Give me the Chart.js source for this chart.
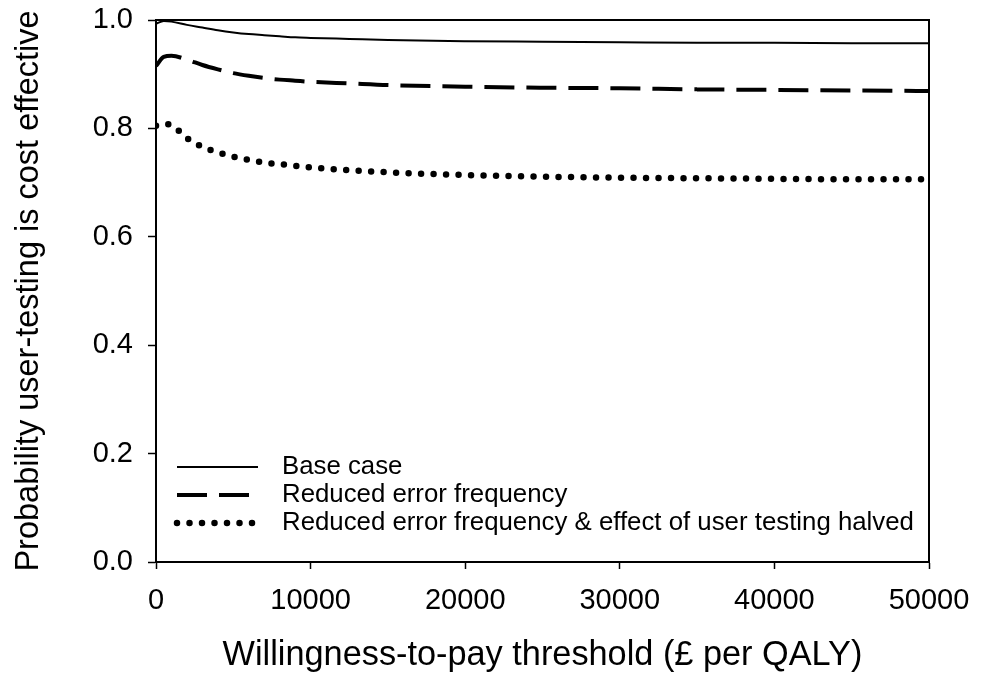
<!DOCTYPE html>
<html lang="en">
<head>
  <meta charset="UTF-8" />
  <title>Probability user-testing is cost effective</title>
  <style>
    html, body { margin: 0; padding: 0; background: #fff; overflow: hidden; }
    canvas { display: block; }
  </style>
</head>
<body>
  <canvas id="ceac" width="988" height="676"></canvas>

  <script src="https://cdn.jsdelivr.net/npm/chart.js"></script>
  <script>
    // willingness-to-pay thresholds (GBP per QALY)
    const wtp = [0, 500, 1000, 2000, 3000, 4000, 5000, 6000, 7000, 8000, 9000, 10000,
                 12500, 15000, 20000, 25000, 30000, 35000, 40000, 45000, 50000];

    const baseCase = [0.993, 0.998, 0.997, 0.991, 0.986, 0.981, 0.977, 0.974, 0.972, 0.970, 0.968, 0.967,
                      0.965, 0.963, 0.961, 0.960, 0.959, 0.958, 0.958, 0.957, 0.957];
    const reducedError = [0.915, 0.932, 0.934, 0.927, 0.917, 0.909, 0.902, 0.897, 0.893, 0.890, 0.888, 0.886,
                          0.883, 0.880, 0.877, 0.875, 0.874, 0.872, 0.871, 0.870, 0.869];
    const reducedHalved = [0.805, 0.808, 0.806, 0.782, 0.766, 0.756, 0.748, 0.742, 0.737, 0.734, 0.731, 0.728,
                           0.723, 0.719, 0.714, 0.711, 0.709, 0.708, 0.707, 0.706, 0.706];

    const seriesNames = ['Base case', 'Reduced error frequency',
                         'Reduced error frequency & effect of user testing halved'];
    const yTicks = [0, 0.2, 0.4, 0.6, 0.8, 1.0];
    const xTicks = [0, 10000, 20000, 30000, 40000, 50000];

    const FONT = 'Arial, "Liberation Sans", sans-serif';

    function pts(ys) {
      return wtp.map((x, i) => ({ x: x, y: ys[i] }));
    }

    // frame around plot + legend inside the plot area
    const framePlugin = {
      id: 'frame',
      afterDraw(chart) {
        const { ctx, chartArea: a } = chart;
        ctx.save();
        ctx.strokeStyle = '#000';
        ctx.lineWidth = 2;
        ctx.strokeRect(a.left, a.top, a.right - a.left, a.bottom - a.top);

        const rows = [467, 495, 523];
        const x0 = 177, x1 = 258;
        chart.data.datasets.forEach((ds, i) => {
          const y = rows[i];
          ctx.beginPath();
          ctx.lineWidth = ds.borderWidth;
          ctx.lineCap = ds.borderCapStyle || 'butt';
          ctx.setLineDash(ds.borderDash || []);
          ctx.moveTo(x0, y);
          ctx.lineTo(i === 1 ? 252 : x1, y);
          ctx.stroke();
          ctx.setLineDash([]);
          ctx.fillStyle = '#000';
          ctx.font = '25.8px ' + FONT;
          ctx.textBaseline = 'middle';
          ctx.textAlign = 'left';
          ctx.fillText(ds.label, 282, y);
        });
        ctx.restore();
      }
    };

    new Chart(document.getElementById('ceac'), {
      type: 'line',
      data: {
        datasets: [
          { label: seriesNames[0], data: pts(baseCase), borderColor: '#000', borderWidth: 2 },
          { label: seriesNames[1], data: pts(reducedError), borderColor: '#000', borderWidth: 4,
            borderDash: [30, 12] },
          { label: seriesNames[2], data: pts(reducedHalved), borderColor: '#000', borderWidth: 6.5,
            borderDash: [0, 12.5], borderCapStyle: 'round' }
        ]
      },
      options: {
        responsive: false,
        animation: false,
        devicePixelRatio: 1,
        layout: { padding: { top: 20, right: 59, bottom: 0, left: 0 } },
        elements: {
          point: { radius: 0 },
          line: { cubicInterpolationMode: 'monotone', fill: false }
        },
        plugins: { legend: { display: false }, tooltip: { enabled: false } },
        scales: {
          x: {
            type: 'linear',
            min: 0, max: 50000,
            afterBuildTicks: s => { s.ticks = xTicks.map(v => ({ value: v })); },
            afterFit: s => { s.height = 114; s.paddingLeft = 0; s.paddingRight = 0; },
            grid: { drawOnChartArea: false, tickLength: 7, color: '#000', tickWidth: 1.5 },
            border: { color: '#000', width: 2 },
            ticks: { color: '#000', font: { family: FONT, size: 29 }, padding: 15, maxRotation: 0,
                     callback: v => String(v) },
            title: { display: true, text: 'Willingness-to-pay threshold (£ per QALY)', color: '#000',
                     font: { family: FONT, size: 34.3 }, padding: { top: 0, bottom: 0 } }
          },
          y: {
            min: 0, max: 1,
            afterBuildTicks: s => { s.ticks = yTicks.map(v => ({ value: v })); },
            afterFit: s => { s.width = 156; s.paddingTop = 0; s.paddingBottom = 0; },
            grid: { drawOnChartArea: false, tickLength: 8, color: '#000', tickWidth: 1.5 },
            border: { color: '#000', width: 2 },
            ticks: { color: '#000', font: { family: FONT, size: 29 }, padding: 15,
                     callback: v => v.toFixed(1) },
            title: { display: true, text: 'Probability user-testing is cost effective', color: '#000',
                     font: { family: FONT, size: 32.5 }, padding: { top: 10, bottom: 0 } }
          }
        }
      },
      plugins: [framePlugin]
    });
  </script>
</body>
</html>
